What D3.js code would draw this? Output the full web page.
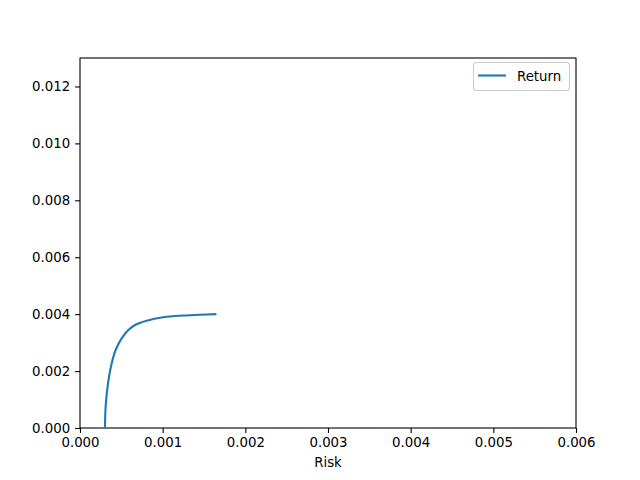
<!DOCTYPE html>
<html><head><meta charset="utf-8">
<script src="https://cdn.jsdelivr.net/npm/d3@7"></script>
<style>body{margin:0;background:#fff}</style>
</head><body>
<script>
const risk = [0.000302, 0.000304, 0.000308, 0.000317, 0.000329, 0.000351, 0.000383, 0.000431, 0.000504, 0.000585, 0.000665, 0.000806, 0.001008, 0.00125, 0.00145, 0.00165];
const ret  = [0.00000, 0.00030, 0.00063, 0.00100, 0.00134, 0.00180, 0.00227, 0.00274, 0.00315, 0.00344, 0.00362, 0.00377, 0.00389, 0.00395, 0.00398, 0.00400];
const xTicks = [0, 0.001, 0.002, 0.003, 0.004, 0.005, 0.006];
const yTicks = [0, 0.002, 0.004, 0.006, 0.008, 0.010, 0.012];
const seriesName = "Return";
const xLabel = "Risk";

const FS = "13.33px";
const W = 640, H = 480, L = 80, R = 576, T = 58, B = 428;
const svg = d3.select("body").append("svg").attr("width", W).attr("height", H)
  .style("font-family", "DejaVu Sans").style("font-size", FS);
const x = d3.scaleLinear().domain([0, 0.006]).range([L, R]);
const y = d3.scaleLinear().domain([0, 0.013]).range([B, T]);

const xa = svg.append("g").attr("transform", `translate(0,${B})`)
  .call(d3.axisBottom(x).tickValues(xTicks).tickFormat(d3.format(".3f")).tickSize(4.9).tickPadding(4.9));
const ya = svg.append("g").attr("transform", `translate(${L},0)`)
  .call(d3.axisLeft(y).tickValues(yTicks).tickFormat(d3.format(".3f")).tickSize(4.9).tickPadding(4.9));
[xa, ya].forEach(a => {
  a.select(".domain").remove();
  a.selectAll("text").style("font-size", FS).attr("fill", "#000").style("font-family", "DejaVu Sans");
  a.selectAll("line").attr("stroke", "#000").attr("stroke-width", 1.1);
});
svg.append("rect").attr("x", L).attr("y", T).attr("width", R - L).attr("height", B - T)
  .attr("fill", "none").attr("stroke", "#000").attr("stroke-width", 1.1);

const line = d3.line().x((d, i) => x(risk[i])).y(d => y(d)).curve(d3.curveCatmullRom);
svg.append("path").datum(ret).attr("d", line).attr("fill", "none")
  .attr("stroke", "#1f77b4").attr("stroke-width", 2.1);

svg.append("text").attr("x", (L + R) / 2).attr("y", 467).attr("text-anchor", "middle")
  .style("font-size", FS).text(xLabel);

const lg = svg.append("g");
lg.append("rect").attr("x", 473.5).attr("y", 62.5).attr("width", 96).attr("height", 28).attr("rx", 3)
  .attr("fill", "#fff").attr("fill-opacity", 0.8).attr("stroke", "#ccc").attr("stroke-width", 1.1);
lg.append("line").attr("x1", 478).attr("x2", 506).attr("y1", 75.5).attr("y2", 75.5)
  .attr("stroke", "#1f77b4").attr("stroke-width", 2.1);
lg.append("text").attr("x", 517).attr("y", 80.5).style("font-size", FS).text(seriesName);
</script>
</body></html>
